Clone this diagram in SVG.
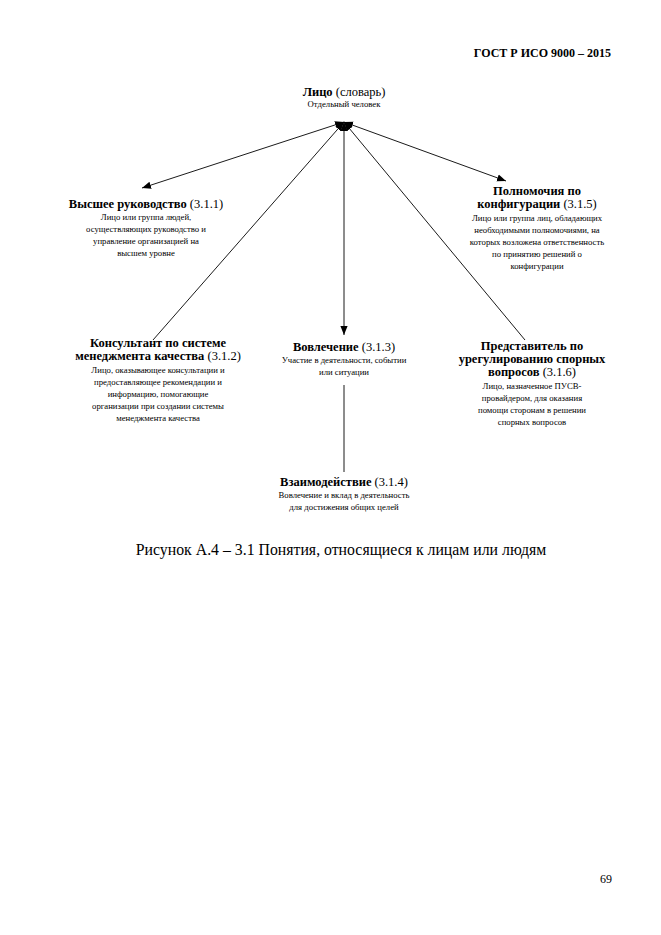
<svg xmlns="http://www.w3.org/2000/svg" width="661" height="935" viewBox="0 0 661 935">
<style>
text{font-family:"Liberation Serif","Times New Roman",serif;fill:#000;text-anchor:middle}
.t{font-size:12.5px}
.b{font-weight:bold}
.d{font-size:8.7px}
.hdr{font-size:12px;font-weight:bold;text-anchor:end}
.cap{font-size:15.8px}
.ln{stroke:#000;stroke-width:0.9;fill:none}
</style>
<defs>
<marker id="ah" viewBox="0 0 10 10" refX="10" refY="5" markerWidth="9" markerHeight="9" markerUnits="userSpaceOnUse" orient="auto-start-reverse">
<path d="M0,1 L10,5 L0,9 Z" fill="#000"/>
</marker>
</defs>
<rect width="661" height="935" fill="#fff"/>
<text class="hdr" x="611" y="57">ГОСТ Р ИСО 9000 – 2015</text>
<g id="connectors">
<line class="ln" x1="142" y1="188" x2="344" y2="122" marker-start="url(#ah)" marker-end="url(#ah)"/>
<line class="ln" x1="506" y1="181" x2="344" y2="122" marker-start="url(#ah)" marker-end="url(#ah)"/>
<line class="ln" x1="344" y1="335" x2="344" y2="122" marker-start="url(#ah)" marker-end="url(#ah)"/>
<line class="ln" x1="153" y1="340" x2="344" y2="122" marker-end="url(#ah)"/>
<line class="ln" x1="525" y1="340" x2="344" y2="122" marker-end="url(#ah)"/>
<line class="ln" x1="344" y1="385" x2="344" y2="472"/>
</g>
<g id="person">
<text class="t" x="344" y="96"><tspan class="b">Лицо</tspan> (словарь)</text>
<text class="d" x="344" y="107">Отдельный человек</text>
</g>
<g id="top-management">
<text class="t" x="146" y="208"><tspan class="b">Высшее руководство</tspan> (3.1.1)</text>
<text class="d" x="146" y="220">Лицо или группа людей,</text>
<text class="d" x="146" y="232">осуществляющих руководство и</text>
<text class="d" x="146" y="244">управление организацией на</text>
<text class="d" x="146" y="256">высшем уровне</text>
</g>
<g id="configuration-authority">
<text class="t b" x="537" y="195">Полномочия по</text>
<text class="t" x="537" y="208"><tspan class="b">конфигурации</tspan> (3.1.5)</text>
<text class="d" x="537" y="221">Лицо или группа лиц, обладающих</text>
<text class="d" x="537" y="233">необходимыми полномочиями, на</text>
<text class="d" x="537" y="245">которых возложена ответственность</text>
<text class="d" x="537" y="257">по принятию решений о</text>
<text class="d" x="537" y="269">конфигурации</text>
</g>
<g id="consultant">
<text class="t b" x="158" y="347">Консультант по системе</text>
<text class="t" x="158" y="360"><tspan class="b">менеджмента качества</tspan> (3.1.2)</text>
<text class="d" x="158" y="373">Лицо, оказывающее консультации и</text>
<text class="d" x="158" y="385">предоставляющее рекомендации и</text>
<text class="d" x="158" y="397">информацию, помогающие</text>
<text class="d" x="158" y="409">организации при создании системы</text>
<text class="d" x="158" y="421">менеджмента качества</text>
</g>
<g id="involvement">
<text class="t" x="344" y="351"><tspan class="b">Вовлечение</tspan> (3.1.3)</text>
<text class="d" x="344" y="363">Участие в деятельности, событии</text>
<text class="d" x="344" y="375">или ситуации</text>
</g>
<g id="dispute-resolver">
<text class="t b" x="532" y="350">Представитель по</text>
<text class="t b" x="532" y="363">урегулированию спорных</text>
<text class="t" x="532" y="376"><tspan class="b">вопросов</tspan> (3.1.6)</text>
<text class="d" x="532" y="389">Лицо, назначенное ПУСВ-</text>
<text class="d" x="532" y="401">провайдером, для оказания</text>
<text class="d" x="532" y="413">помощи сторонам в решении</text>
<text class="d" x="532" y="425">спорных вопросов</text>
</g>
<g id="engagement">
<text class="t" x="344" y="486"><tspan class="b">Взаимодействие</tspan> (3.1.4)</text>
<text class="d" x="344" y="498">Вовлечение и вклад в деятельность</text>
<text class="d" x="344" y="510">для достижения общих целей</text>
</g>
<text class="cap" x="341" y="555">Рисунок А.4 – 3.1 Понятия, относящиеся к лицам или людям</text>
<text style="font-size:12px;text-anchor:end" x="612" y="883">69</text>
</svg>
